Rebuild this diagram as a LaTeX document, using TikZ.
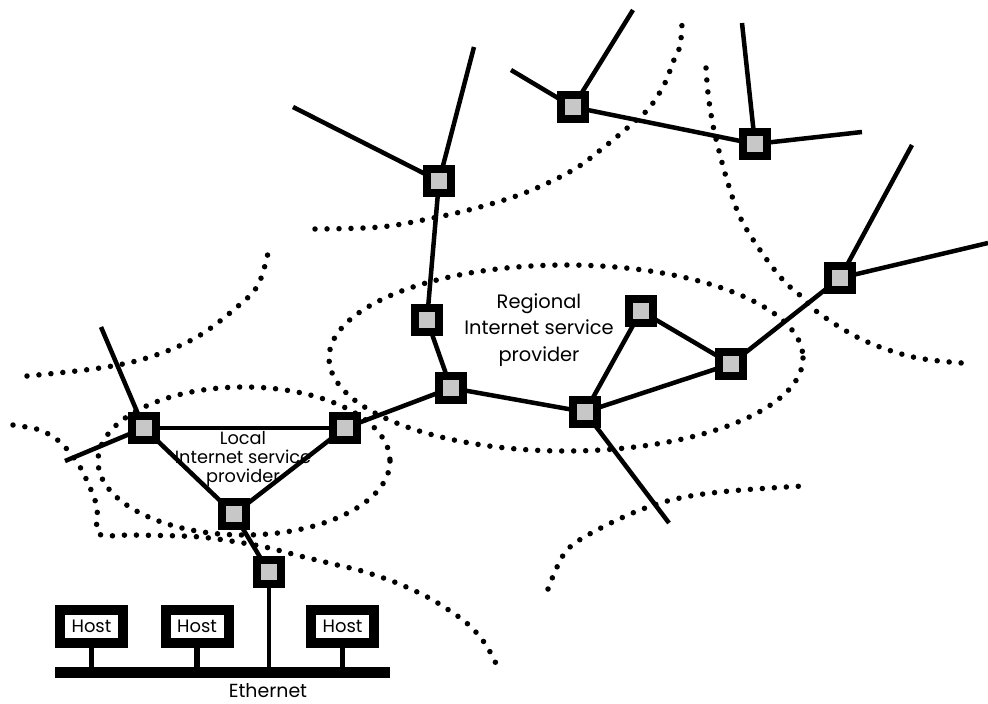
\documentclass[tikz,border=0pt]{standalone}
\usepackage{fontspec}
\setmainfont{Poppins}
\begin{document}
\begin{tikzpicture}[x=1bp,y=-1bp,
  router/.style={draw=black, line width=8bp, fill=black!22, minimum size=24bp, inner sep=0pt, outer sep=0pt},
  link/.style={line width=4.5bp},
  stem/.style={line width=5.5bp},
  zone/.style={line width=5.5bp, line cap=round, dash pattern=on 0bp off 12bp},
  host/.style={draw=black, line width=10bp, fill=white, minimum width=63bp, minimum height=33bp, inner sep=0pt, font=\fontsize{18}{20}\selectfont},
  lbl/.style={align=center, inner sep=0pt}]
\useasboundingbox (0,0) rectangle (988,704);

% dotted zone boundaries
\draw[zone] plot[smooth, tension=0.6] coordinates {(315,229) (380,227) (433,218) (480,207) (527,192) (573,170) (603,148) (633,123) (650,107) (665,83) (673,62) (680,46) (682,23)};
\draw[zone] plot[smooth, tension=0.6] coordinates {(706,68) (708,93) (712,120) (717,143) (727,180) (740,217) (760,250) (783,280) (802,297) (820,314) (863,340) (913,357) (962,363)};
\draw[zone] plot[smooth, tension=0.6] coordinates {(27,376) (100,368) (150,357) (197,337) (237,307) (258,285) (268,253)};
\draw[zone] plot[smooth, tension=0.5] coordinates {(13,425) (40,430) (60,442) (77,462) (88,483) (97,507) (99,534) (133,535) (200,537) (260,546) (300,556) (333,564) (362,571) (397,583) (431,599) (463,620) (481,638) (494,659) (498,671)};
\draw[zone] plot[smooth, tension=0.6] coordinates {(548,589) (558,565) (570,547) (597,530) (640,510) (680,498) (730,491) (803,486)};
\draw[zone] (566,358) ellipse [x radius=237, y radius=93];
\draw[zone] (244,461) ellipse [x radius=146, y radius=74];

% routers
\node[router] (A) at (439,181) {};
\node[router] (B) at (573,107) {};
\node[router] (C) at (755,144) {};
\node[router] (D) at (427,320) {};
\node[router] (E) at (451,388) {};
\node[router] (F) at (641,311) {};
\node[router] (G) at (731,364) {};
\node[router] (H) at (840,278) {};
\node[router] (I) at (585,412) {};
\node[router] (J) at (144,428) {};
\node[router] (K) at (345,428) {};
\node[router] (L) at (234,514) {};
\node[router] (M) at (269,572) {};

% free ends
\coordinate (a1) at (293,107);
\coordinate (a2) at (474,47);
\coordinate (b1) at (511,70);
\coordinate (b2) at (633,10);
\coordinate (c1) at (742,23);
\coordinate (c2) at (862,132);
\coordinate (h1) at (912,145);
\coordinate (h2) at (988,243);
\coordinate (i1) at (669,523);
\coordinate (j1) at (101,327);
\coordinate (j2) at (65,461);

% links
\draw[link] (A) -- (a1);
\draw[link] (A) -- (a2);
\draw[link] (A) -- (D);
\draw[link] (B) -- (b1);
\draw[link] (B) -- (b2);
\draw[link] (B) -- (C);
\draw[link] (C) -- (c1);
\draw[link] (C) -- (c2);
\draw[link] (D) -- (E);
\draw[link] (E) -- (I);
\draw[link] (E) -- (K);
\draw[link] (I) -- (F);
\draw[link] (I) -- (G);
\draw[link] (I) -- (i1);
\draw[link] (F) -- (G);
\draw[link] (G) -- (H);
\draw[link] (H) -- (h1);
\draw[link] (H) -- (h2);
\draw[link] (J) -- (j1);
\draw[link] (J) -- (j2);
\draw[link] (J) -- (K);
\draw[link] (J) -- (L);
\draw[link] (K) -- (L);
\draw[link] (L) -- (M);

% ethernet
\node[fill=black, minimum width=335bp, minimum height=11bp, inner sep=0pt] (eth) at (222.5,672.5) {};
\node[host] (h1n) at (91.5,626.5) {Host};
\node[host] (h2n) at (197,626.5) {Host};
\node[host] (h3n) at (342.5,626.5) {Host};
\draw[stem] (h1n) -- (h1n |- eth.north);
\draw[stem] (h2n) -- (h2n |- eth.north);
\draw[stem] (h3n) -- (h3n |- eth.north);
\draw[link] (M) -- (M |- eth.north);
\node[lbl, font=\fontsize{19}{20}\selectfont] (ethl) at (268,691) {Ethernet};

% labels
\node[lbl, font=\fontsize{19.5}{26.5}\selectfont] (reg) at (539,330) {Regional\\Internet service\\provider};
\node[lbl, font=\fontsize{17.8}{19}\selectfont] (loc) at (243,459) {Local\\Internet service\\provider};
\end{tikzpicture}
\end{document}
